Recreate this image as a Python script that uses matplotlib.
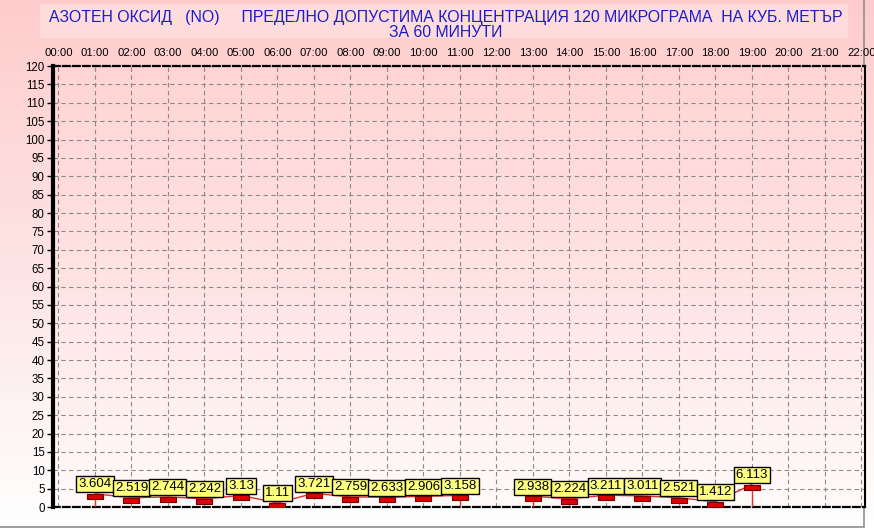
import matplotlib.pyplot as plt
from matplotlib.colors import LinearSegmentedColormap
from matplotlib.patches import Rectangle
import numpy as np

# hourly values, 12:00 has no measurement
hours = list(range(0, 23))
hour_labels = ['%02d:00' % h for h in hours]
values = [np.nan, 3.604, 2.519, 2.744, 2.242, 3.13, 1.11, 3.721, 2.759, 2.633,
          2.906, 3.158, np.nan, 2.938, 2.224, 3.211, 3.011, 2.521, 1.412, 6.113,
          np.nan, np.nan, np.nan]
value_text = ['', '3.604', '2.519', '2.744', '2.242', '3.13', '1.11', '3.721', '2.759', '2.633',
              '2.906', '3.158', '', '2.938', '2.224', '3.211', '3.011', '2.521', '1.412', '6.113',
              '', '', '']
y_ticks = list(range(0, 121, 5))
title = ('АЗОТЕН ОКСИД   (NO)     ПРЕДЕЛНО ДОПУСТИМА КОНЦЕНТРАЦИЯ 120 МИКРОГРАМА  НА КУБ. МЕТЪР\n'
         'ЗА 60 МИНУТИ')

plt.rcParams['font.family'] = ['Liberation Sans', 'DejaVu Sans']

W, H = 874, 529
fig = plt.figure(figsize=(W / 100, H / 100), dpi=100)

# figure background gradient (pink top -> white bottom)
bg = fig.add_axes([0, 0, 1, 1], zorder=-10)
bg_cmap = LinearSegmentedColormap.from_list('bg', ['#ffffff', '#fde4e4', '#ffcccc'])
bg.imshow(np.linspace(0, 1, 256).reshape(-1, 1), aspect='auto', cmap=bg_cmap,
          origin='lower', extent=[0, 1, 0, 1])
bg.axis('off')
bg.set_xlim(0, 1)
bg.set_ylim(0, 1)
# grey frame on right/bottom
bg.add_patch(Rectangle((-0.01, 2 / H), 1 - 1.5 / W, 1.2, fill=False, edgecolor='#909090', lw=1.2))
# title box
bg.add_patch(Rectangle((40 / W, 1 - 38 / H), 808 / W, 34 / H, facecolor='#ffdcdc', edgecolor='none'))
bg.text(446 / W, 1 - 25 / H, title, ha='center', va='center', color='#1c1cc8',
        fontsize=11.4, linespacing=1.0)

left, right, top, bottom = 53, 865, 66, 507
ax = fig.add_axes([left / W, 1 - bottom / H, (right - left) / W, (bottom - top) / H])
ax.set_xlim(-0.15, 22.1)
ax.set_ylim(0, 120)
ax.patch.set_alpha(0)
pa_cmap = LinearSegmentedColormap.from_list('pa', ['#fffafa', '#ffe4e4', '#ffd4d4'])
ax.imshow(np.linspace(0, 1, 256).reshape(-1, 1), aspect='auto', cmap=pa_cmap,
          origin='lower', extent=[-0.15, 22.1, 0, 120], zorder=0)

ax.set_xticks(hours)
ax.set_xticklabels(hour_labels, fontsize=8.1)
ax.xaxis.tick_top()
ax.tick_params(axis='x', length=0, pad=6)
ax.set_yticks(y_ticks)
ax.set_yticklabels([str(v) for v in y_ticks], fontsize=8.3)
ax.tick_params(axis='y', length=4, width=1, pad=2)
ax.grid(True, color='#8a8a8a', linestyle=(0, (4, 3)), linewidth=0.8, zorder=1)

ax.spines['left'].set_linewidth(3)
ax.spines['right'].set_linewidth(1.5)
for s in ['top', 'bottom']:
    ax.spines[s].set_linewidth(1.6)
    ax.spines[s].set_linestyle((0, (3, 1.5)))

vals = np.array(values, dtype=float)
ax.plot(hours, vals, color='#e03030', lw=1, zorder=3)

# vertical drop lines at segment ends
for i, v in enumerate(vals):
    if np.isnan(v):
        continue
    prev_nan = i == 0 or np.isnan(vals[i - 1])
    next_nan = i == len(vals) - 1 or np.isnan(vals[i + 1])
    if prev_nan or next_nan:
        ax.vlines(hours[i], 0, v, color='#e03030', lw=1, zorder=3)

box = [(-1, 0), (1, 0), (1, -0.6), (-1, -0.6), (-1, 0)]
ax.plot(hours, vals, linestyle='none', marker=box, markersize=11,
        markerfacecolor='#dd0000', markeredgecolor='#7a0000', markeredgewidth=0.8, zorder=4)

for h, v, t in zip(hours, vals, value_text):
    if np.isnan(v):
        continue
    ax.annotate(t, (h, v), xytext=(0, 2.5), textcoords='offset points', ha='center', va='bottom',
                fontsize=9.5, zorder=5,
                bbox=dict(boxstyle='square,pad=0.15', facecolor='#ffff80', edgecolor='black', lw=1))

fig.savefig('out.png', dpi=100)
